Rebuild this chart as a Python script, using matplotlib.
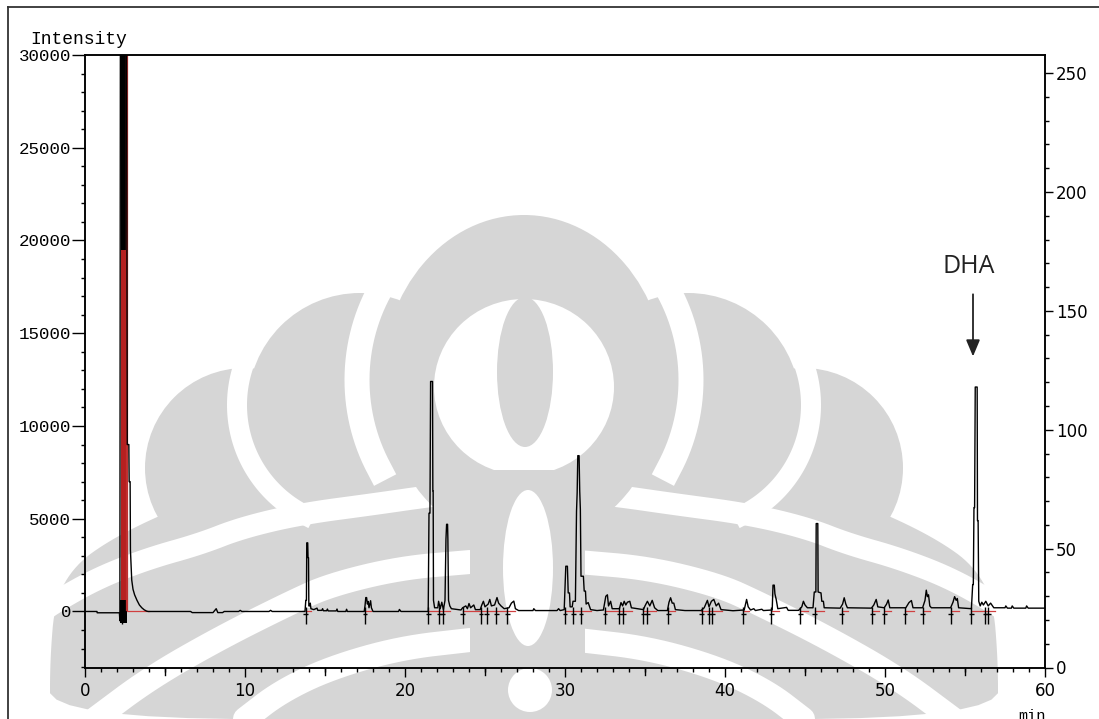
import numpy as np
import matplotlib.pyplot as plt
from matplotlib.patches import Ellipse, Rectangle, Circle, Polygon
from matplotlib.ticker import MultipleLocator
from matplotlib.transforms import blended_transform_factory

# chromatogram trace: retention time (min) vs detector intensity
times = [0.0, 0.75, 0.76, 2.15, 2.18, 2.22, 2.58, 2.64, 2.74, 2.76, 2.82, 2.84, 2.92, 3.0,
         3.1, 3.25, 3.4, 3.55, 3.7, 3.85, 3.95, 6.6, 6.7, 8.0, 8.2, 8.3, 8.6, 8.7, 9.6, 9.7,
         9.8, 11.5, 11.6, 11.7, 13.75, 13.8, 13.84, 13.86, 13.92, 13.94, 13.97, 13.99, 14.05,
         14.08, 14.12, 14.3, 14.5, 14.55, 14.8, 14.85, 14.9, 15.1, 15.15, 15.2, 15.7, 15.75,
         15.8, 16.3, 16.35, 16.4, 17.45, 17.5, 17.55, 17.6, 17.65, 17.7, 17.75, 17.85, 17.9,
         18.0, 19.6, 19.65, 19.75, 21.45, 21.5, 21.56, 21.6, 21.72, 21.74, 21.76, 21.78,
         21.85, 22.05, 22.1, 22.2, 22.3, 22.4, 22.5, 22.56, 22.6, 22.66, 22.68, 22.72, 22.8,
         22.9, 23.5, 23.6, 23.8, 23.9, 24.0, 24.1, 24.3, 24.4, 24.7, 24.8, 24.9, 25.0, 25.2,
         25.3, 25.4, 25.6, 25.75, 25.85, 26.0, 26.2, 26.5, 26.65, 26.8, 26.9, 27.1, 28.0,
         28.05, 28.15, 29.5, 29.6, 29.7, 29.95, 30.05, 30.15, 30.2, 30.28, 30.32, 30.45,
         30.5, 30.65, 30.72, 30.76, 30.8, 30.88, 30.92, 30.96, 31.0, 31.15, 31.2, 31.28,
         31.32, 31.45, 31.6, 32.0, 32.4, 32.55, 32.65, 32.72, 32.85, 32.95, 33.4, 33.5,
         33.6, 33.7, 33.8, 33.9, 34.05, 34.15, 34.9, 35.0, 35.15, 35.3, 35.45, 35.6, 35.8,
         36.4, 36.5, 36.6, 36.7, 36.8, 36.9, 37.5, 38.5, 38.7, 38.9, 39.0, 39.15, 39.3,
         39.45, 39.6, 39.75, 40.5, 41.2, 41.35, 41.45, 41.6, 41.8, 41.9, 42.3, 42.4, 42.95,
         43.0, 43.08, 43.12, 43.2, 43.3, 43.85, 43.95, 44.6, 44.8, 44.9, 45.0, 45.15, 45.5,
         45.58, 45.68, 45.7, 45.8, 45.82, 46.0, 46.05, 46.15, 46.2, 47.2, 47.35, 47.45,
         47.55, 47.65, 49.15, 49.3, 49.45, 49.55, 49.95, 50.1, 50.2, 50.3, 51.3, 51.5,
         51.65, 51.75, 52.35, 52.5, 52.58, 52.65, 52.72, 52.8, 52.9, 54.1, 54.25, 54.35,
         54.45, 54.52, 54.6, 55.4, 55.48, 55.52, 55.56, 55.6, 55.64, 55.76, 55.78, 55.82,
         55.86, 55.95, 56.05, 56.15, 56.3, 56.45, 56.6, 56.8, 57.5, 57.55, 57.65, 57.9,
         57.95, 58.05, 58.8, 58.85, 58.95, 60.0]
intensity = [0, 0, -70, -70, -500, 40000, 40000, 9000, 9000, 7000, 7000, 3300, 1700, 1200,
             900, 600, 350, 200, 90, 20, 0, 0, -60, -60, 150, -60, -60, 0, 0, 60,
             0, 0, 60, 0, 0, 600, 600, 3700, 3700, 2900, 2900, 300, 300,
             450, 150, 100, 180, 60, 60, 150, 40, 40, 130, 30, 30, 130,
             0, 0, 120, 0, 0, 300, 750, 750, 400, 540, 200, 580, 200,
             0, 0, 110, 0, 0, 5300, 5300, 12400, 12400, 6500, 6500, 600,
             200, 200, 550, 150, 500, 100, 600, 3900, 4700, 4700, 3900, 600, 300,
             150, 80, 200, 300, 150, 430, 200, 350, 100, 100, 350, 550, 250, 400,
             650, 300, 350, 750, 450, 300, 150, 200, 450, 560, 150, 50, 50,
             150, 50, 50, 150, 50, 100, 2440, 2440, 1000, 1000, 250, 250,
             550, 550, 5400, 6400, 8400, 8400, 6500, 5500, 1900, 1900, 1100, 1100,
             400, 480, 100, 50, 80, 820, 900, 300, 550, 150, 150, 480,
             300, 550, 350, 500, 550, 200, 100, 300, 550, 300, 600, 200, 50,
             50, 500, 740, 450, 450, 100, 50, 50, 200, 600, 250, 550, 650,
             300, 450, 100, 40, 80, 650, 250, 80, 150, 50, 120, 50, 80,
             1420, 1420, 950, 650, 150, 220, 60, 60, 250, 550, 350, 200, 200,
             1050, 1050, 4740, 4740, 1050, 1000, 550, 550, 200, 180, 400, 740,
             400, 200, 180, 350, 650, 250, 200, 400, 620, 200, 200, 480,
             590, 200, 200, 600, 1150, 800, 900, 300, 200, 200, 500, 800,
             600, 700, 200, 150, 1450, 1450, 5600, 5600, 12100, 12100, 4900, 4900,
             550, 300, 500, 350, 550, 300, 450, 200, 200, 300, 180, 180,
             300, 180, 180, 300, 180, 180]

# integration marks below the baseline (min)
peak_marks = [2.29, 13.8, 17.5, 21.46, 22.14, 22.35, 23.6, 24.75, 25.1, 25.7, 26.4,
              30.0, 30.52, 31.0, 32.5, 33.4, 33.65, 34.9, 35.15, 36.46, 38.54, 39.0,
              39.2, 41.15, 42.9, 44.7, 45.6, 47.3, 49.2, 49.96, 51.25, 52.36, 54.1,
              55.4, 56.25, 56.45]

# red integration baselines (start, end) in min
baseline_segments = [(2.6, 4.0), (13.8, 14.1), (17.5, 17.9), (21.45, 22.8), (23.6, 26.9),
                     (30.0, 31.6), (32.5, 34.2), (34.9, 35.7), (36.45, 36.9), (38.5, 39.8),
                     (41.15, 41.5), (42.9, 43.4), (44.7, 45.2), (45.6, 46.2), (47.3, 47.7),
                     (49.2, 49.6), (50.0, 50.4), (51.25, 51.8), (52.36, 52.8), (54.1, 54.6),
                     (55.4, 56.9)]

solvent_start, solvent_end = 2.22, 2.6
x_ticks = [0, 10, 20, 30, 40, 50, 60]
y_ticks = [0, 5000, 10000, 15000, 20000, 25000, 30000]
right_ticks = [0, 50, 100, 150, 200, 250]
dha_time, dha_label = 55.5, "DHA"

W, H = 1099, 719
WM = "#d6d6d6"
MID = 524  # mirror line of the background emblem

# left half of the emblem, in pixels from the top-left corner
lower_body = [(470, 465), (380, 470), (300, 478), (220, 492), (160, 515), (110, 540),
              (75, 565), (55, 600), (50, 660), (50, 719), (470, 719)]
lobes = [((360, 405), 112), ((245, 468), 100)]  # (centre, radius)
swooshes = [  # white bands: (points, width in px)
    ([(470, 492), (430, 496), (375, 504), (300, 514), (241, 528), (200, 544), (150, 558),
      (100, 577), (55, 602), (30, 620)], 22),
    ([(470, 562), (400, 568), (330, 585), (290, 603), (220, 638), (150, 678), (95, 719)], 24),
    ([(470, 640), (400, 648), (330, 668), (280, 692), (245, 719)], 24),
]


def chaikin(pts, n=3, closed=False):
    p = np.asarray(pts, float)
    for _ in range(n):
        q = np.roll(p, -1, axis=0) if closed else p[1:]
        a = p if closed else p[:-1]
        new = np.empty((2 * len(a), 2))
        new[0::2] = 0.75 * a + 0.25 * q
        new[1::2] = 0.25 * a + 0.75 * q
        if not closed:
            new = np.vstack([p[:1], new, p[-1:]])
        p = new
    return p


def watermark(bg):
    for sgn in (1, -1):
        def side(pts):
            pts = np.asarray(pts, float)
            return np.column_stack([MID + sgn * (pts[:, 0] - MID), pts[:, 1]])
        bg.add_patch(Polygon(side(chaikin(lower_body, 3, closed=False)), closed=True,
                             color=WM, lw=0, zorder=1))
        for (cx, cy), r in lobes:
            bg.add_patch(Circle((MID + sgn * (cx - MID), cy), r, color=WM, lw=0, zorder=1))
        # gap between the two lobes
        th = np.radians(np.linspace(117, 200, 60))
        arc = np.column_stack([360 + 123 * np.cos(th), 405 + 123 * np.sin(th)])
        arc = side(arc)
        bg.plot(arc[:, 0], arc[:, 1], color="white", lw=20 * 0.72, zorder=2)
        for pts, w in swooshes:
            s = side(chaikin(pts, 3))
            bg.plot(s[:, 0], s[:, 1], color="white", lw=w * 0.72, solid_capstyle="round",
                    zorder=2)
    # white gap round the ring
    th = np.radians(np.linspace(150, 390, 120))
    bg.plot(MID + 167 * np.cos(th), 380 + 178 * np.sin(th), color="white", lw=25 * 0.72,
            zorder=3)
    bg.add_patch(Ellipse((MID, 380), 284, 330, color=WM, lw=0, zorder=4))
    bg.add_patch(Ellipse((MID, 387), 180, 176, color="white", lw=0, zorder=5))
    bg.add_patch(Ellipse((MID + 1, 372), 56, 150, color=WM, lw=0, zorder=6))
    bg.add_patch(Rectangle((470, 470), 115, 250, color=WM, lw=0, zorder=6))
    bg.add_patch(Ellipse((MID + 4, 568), 50, 156, color="white", lw=0, zorder=7))
    bg.add_patch(Circle((MID + 6, 690), 22, color="white", lw=0, zorder=7))


fig = plt.figure(figsize=(W / 100, H / 100), dpi=100)
bg = fig.add_axes([0, 0, 1, 1])
bg.set_xlim(0, W)
bg.set_ylim(H, 0)
bg.axis("off")
watermark(bg)
# outer frame
bg.plot([8, 8], [7, H], color="#333333", lw=1.3, zorder=10)
bg.plot([8, W], [7, 7], color="#333333", lw=1.3, zorder=10)

ax = fig.add_axes([85 / W, (H - 667.5) / H, 960 / W, 612.5 / H])
ax.patch.set_alpha(0)
ax.set_xlim(0, 60)
ax.set_ylim(-3020, 30000)

# solvent front: black above, red integration band below
ax.fill_between([solvent_start, solvent_end - 0.02], 19500, 40000, color="black", lw=0)
ax.fill_between([solvent_start, solvent_end + 0.04], 0, 19500, color="#b52020", lw=0)
ax.vlines(solvent_end + 0.03, 0, 40000, color="#c03030", lw=1.6)
ax.fill_between([solvent_start - 0.02, solvent_end], -600, 600, color="black", lw=0)

for a, b in baseline_segments:
    ax.plot([a, b], [0, 0], color="#d04040", lw=0.9, zorder=3)
ax.plot(times, intensity, color="black", lw=1.0, zorder=4)

ax.vlines(peak_marks, -650, 250, color="black", lw=1.0, zorder=5)
ax.hlines([-150] * len(peak_marks), [m - 0.15 for m in peak_marks],
          [m + 0.15 for m in peak_marks], color="black", lw=1.0, zorder=5)

# DHA label
ax.text(dha_time - 0.25, 18600, dha_label, ha="center", va="center",
        fontsize=18, family="Open Sans", color="#222222")
ax.annotate("", xy=(dha_time, 13750), xytext=(dha_time, 17100),
            arrowprops=dict(arrowstyle="-|>,head_length=1.0,head_width=0.42",
                            color="#222222", lw=1.3, shrinkA=0, shrinkB=0))

for s in ax.spines.values():
    s.set_linewidth(1.1)

ax.set_xticks(x_ticks)
ax.xaxis.set_minor_locator(MultipleLocator(1))
ax.tick_params(axis="x", which="major", direction="out", length=6.5, width=1.0,
               labelsize=12, pad=4)
ax.tick_params(axis="x", which="minor", direction="out", length=2.9, width=1.0)
trans = blended_transform_factory(ax.transData, ax.transAxes)
for t in range(5, 60, 10):
    ax.plot([t, t], [0, -7 / 612.5], transform=trans, color="black", lw=1.0, clip_on=False)

ax.set_yticks(y_ticks)
ax.yaxis.set_minor_locator(MultipleLocator(1000))
ax.tick_params(axis="y", which="major", direction="out", length=9.5, width=1.0, pad=0.5)
ax.tick_params(axis="y", which="minor", direction="out", length=2.6, width=1.0)
for lab in ax.get_yticklabels():
    lab.set_family("Liberation Mono")
    lab.set_fontsize(12.6)

ax2 = ax.twinx()
ax2.set_ylim(0, 257.6)
ax2.set_yticks(right_ticks)
ax2.yaxis.set_minor_locator(MultipleLocator(10))
ax2.tick_params(axis="y", which="major", direction="out", length=5.8, width=1.0,
                labelsize=12, pad=2)
ax2.tick_params(axis="y", which="minor", direction="out", length=2.9, width=1.0)
for s in ax2.spines.values():
    s.set_linewidth(1.1)

fig.text(30 / W, 1 - 44 / H, "Intensity", family="Liberation Mono", fontsize=13,
         va="baseline", ha="left")
fig.text(1032 / W, 1 - 709 / H, "min", family="Liberation Mono", fontsize=11,
         va="top", ha="center")

fig.savefig("out.png", dpi=100)
